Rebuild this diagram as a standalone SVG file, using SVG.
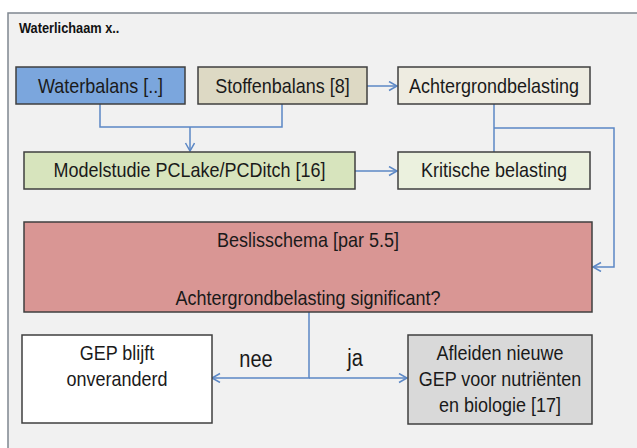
<svg xmlns="http://www.w3.org/2000/svg" width="637" height="448" viewBox="0 0 637 448">
<defs>
<style>
.box{stroke:#3f3f3f;stroke-width:1.5}
.t{font-family:"Liberation Sans",Arial,sans-serif;font-size:18px;fill:#1a1a1a;text-anchor:middle}
.lbl{font-family:"Liberation Sans",Arial,sans-serif;font-size:20px;fill:#1a1a1a;text-anchor:middle}
.c{fill:none;stroke:#5b87c5;stroke-width:1.5}
</style>
<marker id="ah" markerUnits="userSpaceOnUse" markerWidth="12" markerHeight="12" refX="9" refY="5" orient="auto">
<path d="M1,0.5 L9,5 L1,9.5" fill="none" stroke="#5b87c5" stroke-width="1.5"/>
</marker>
</defs>
<rect x="0" y="0" width="637" height="448" fill="#ffffff"/>
<g id="frame">
<rect x="8" y="13" width="660" height="470" fill="#f1f1f1" stroke="#7f8790" stroke-width="1.5"/>
<text transform="translate(19,33) scale(1,1.1)" font-family="'Liberation Sans',Arial,sans-serif" font-size="12.8" font-weight="bold" fill="#111">Waterlichaam x..</text>
</g>
<g id="connectors">
<path class="c" d="M100,104 V127 H282 V104"/>
<path class="c" d="M190,127 V151" marker-end="url(#ah)"/>
<path class="c" d="M367,86 H397" marker-end="url(#ah)"/>
<path class="c" d="M355,171 H397" marker-end="url(#ah)"/>
<path class="c" d="M494,104 V152"/>
<path class="c" d="M494,128 H614 V267 H593" marker-end="url(#ah)"/>
<path class="c" d="M309,312 V378 H212" marker-end="url(#ah)"/>
<path class="c" d="M309,378 H407" marker-end="url(#ah)"/>
</g>
<g id="waterbalans">
<rect class="box" x="16" y="67" width="169" height="37" fill="#7ba6dd"/>
<text class="t" transform="translate(100.5,93) scale(1,1.15)">Waterbalans [..]</text>
</g>
<g id="stoffenbalans">
<rect class="box" x="198" y="67" width="169" height="37" fill="#ddd9c4"/>
<text class="t" transform="translate(282.5,93) scale(1,1.15)">Stoffenbalans [8]</text>
</g>
<g id="achtergrondbelasting">
<rect class="box" x="398" y="67" width="192" height="37" fill="#eeece1"/>
<text class="t" transform="translate(494,93) scale(1,1.15)">Achtergrondbelasting</text>
</g>
<g id="modelstudie">
<rect class="box" x="24" y="152" width="331" height="37" fill="#d7e4bd"/>
<text class="t" transform="translate(189.5,177) scale(1,1.15)">Modelstudie PCLake/PCDitch [16]</text>
</g>
<g id="kritische">
<rect class="box" x="398" y="152" width="192" height="37" fill="#ebf1de"/>
<text class="t" transform="translate(494,177) scale(1,1.15)">Kritische belasting</text>
</g>
<g id="beslisschema">
<rect class="box" x="24" y="222" width="568" height="90" fill="#d99694"/>
<text class="t" transform="translate(308,247) scale(1,1.15)">Beslisschema [par 5.5]</text>
<text class="t" transform="translate(308,305) scale(1,1.15)">Achtergrondbelasting significant?</text>
</g>
<g id="gep-blijft">
<rect class="box" x="22" y="335" width="190" height="88" fill="#ffffff"/>
<text class="t" transform="translate(117,360) scale(1,1.15)">GEP blijft</text>
<text class="t" transform="translate(117,386) scale(1,1.15)">onveranderd</text>
</g>
<g id="afleiden">
<rect class="box" x="408" y="335" width="184" height="89" fill="#d9d9d9"/>
<text class="t" transform="translate(500,360) scale(1,1.15)">Afleiden nieuwe</text>
<text class="t" transform="translate(500,386) scale(1,1.15)">GEP voor nutriënten</text>
<text class="t" transform="translate(500,412) scale(1,1.15)">en biologie [17]</text>
</g>
<g id="labels">
<text class="lbl" transform="translate(256,367) scale(1,1.15)">nee</text>
<text class="lbl" transform="translate(355,366) scale(1,1.15)">ja</text>
</g>
</svg>
